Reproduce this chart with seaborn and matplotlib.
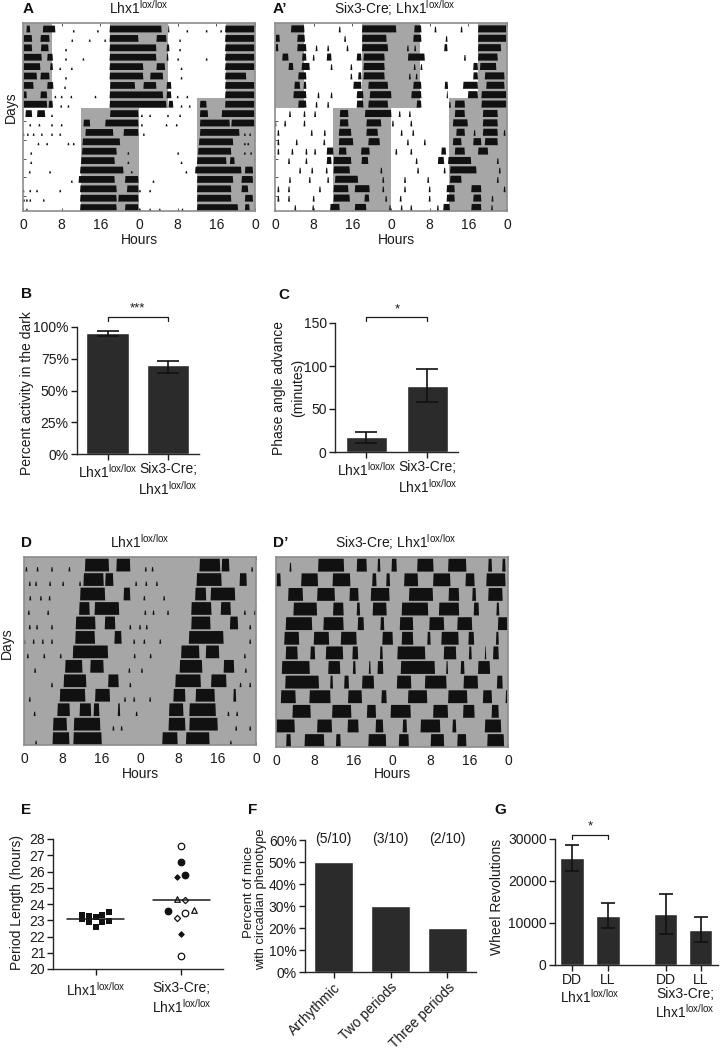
import matplotlib
matplotlib.use('Agg')
import matplotlib.pyplot as plt
import pandas as pd
import seaborn as sns

LOX = r'Lhx1$^{\mathrm{lox/lox}}$'
SIX3 = 'Six3-Cre;\n' + LOX
HOUR_TICKS = [0, 8, 16, 24, 32, 40, 48]
HOUR_LABELS = ['0', '8', '16', '0', '8', '16', '0']

# actograms: one list per day, bouts as (start hour, end hour) on the double plot
a_bouts = [
    [(0.7, 1.5), (4.1, 6.7), (17.9, 28.7), (30, 30.3), (41.8, 48)],
    [(0.1, 1.9), (3.6, 5.5), (17.9, 23.9), (27.6, 29.7), (41.8, 48)],
    [(0.1, 1.9), (3.7, 5.3), (17.9, 27.6), (29.7, 30.3), (41.8, 48)],
    [(0.1, 3.9), (5, 6.2), (17.9, 27.6), (29.7, 30.1), (41.8, 48)],
    [(0.1, 3.6), (5.6, 6.2), (17.9, 24.9), (27.6, 29.4), (41.8, 48)],
    [(0.1, 2.9), (3.6, 5.5), (17.9, 24.9), (26.3, 29), (41.8, 46.2)],
    [(0.1, 2.2), (5, 6.3), (18, 23.2), (24.9, 27.6), (29.7, 30.7), (41.8, 48)],
    [(0.1, 0.8), (3.6, 5), (17.9, 29), (29.7, 30.7), (41.8, 48)],
    [(0.1, 5), (5.3, 6.2), (17.9, 29.7), (30.1, 31.1), (36.6, 38), (41.8, 48)],
    [(0.5, 1.9), (2.9, 4.6), (18, 23.9), (36.6, 38.3), (41.1, 48)],
    [(12.5, 13.9), (17, 23.9), (36.6, 42.8), (43.1, 48)],
    [(12.9, 18.7), (20.8, 23.9), (36.6, 44.8)],
    [(12.3, 20.1), (36.4, 43.5)],
    [(12.2, 19.4), (36.2, 43.1)],
    [(12, 19), (36, 42.1), (42.8, 43.8)],
    [(11.8, 20.8), (35.6, 45.2), (45.9, 47.6)],
    [(11.5, 19), (21.1, 23.9), (36, 43.5), (45.2, 47.6)],
    [(11.8, 19.4), (21.5, 23.9), (36, 43.1), (45.2, 46.6)],
    [(11.8, 19.4), (19.7, 23.9), (36, 43.1), (45.9, 47.6)],
    [(11.8, 19.4), (21.1, 23.9), (36, 44.5), (45.9, 46.9)],
]
a_marks = [
    [10.5, 15.5, 34, 38, 41], [10.2, 13.8, 17, 32.5], [8.9, 32.5], [8.9, 12.5, 32.1, 38],
    [7.7, 10.1, 32.8], [8.9, 32.8], [8.7], [6.7, 8, 10, 15, 32, 34], [7.9, 9.4, 32.8, 34.5],
    [6, 24.6, 26.3, 30, 32.5], [1.5, 3.4, 6, 8, 24.6, 29.7, 31.8],
    [0.1, 1, 2.2, 3.9, 6, 7.7, 25, 45.9, 47], [3.2, 5, 9.4, 10.5, 45.9, 46.6],
    [1.7, 21.8, 32.1, 45.9, 47.2], [1.7, 21.8, 32.8], [1.4, 5.6, 22.5, 33.8], [10.1, 27],
    [0.1, 1.5, 2.9, 7.7, 24.2, 26.3], [0.2, 0.8, 1.5, 4.3], [0.8, 24.2, 26.3, 28.3, 33],
]
ap_bouts = [
    [(3.3, 6.1), (18, 25.1), (28.8, 30.3), (42, 47.9)],
    [(0.1, 1), (4.6, 6.2), (18, 23.1), (28.6, 30.3), (42, 47.9)],
    [(0.1, 0.7), (4.6, 6.5), (18, 23.4), (35, 35.7), (42, 46.8)],
    [(1.5, 2.8), (5.6, 6.5), (10.7, 11.7), (16.9, 17.9), (18.3, 22.7), (27.5, 31), (42, 46.1)],
    [(2.8, 3.8), (5.5, 7.2), (18.3, 22.7), (41, 42), (42.4, 45.8)],
    [(4.8, 6.5), (17.2, 17.9), (18.3, 22.7), (41, 42), (43.4, 47.5)],
    [(4, 5.2), (5.9, 6.5), (16.2, 17.9), (19.3, 23.4), (28.6, 30.3), (35.1, 35.8), (38.9, 42), (43.7, 47.5)],
    [(3.8, 6.5), (16.9, 18.3), (19.6, 24.1), (28.2, 30.3), (35.5, 35.8), (39.9, 42), (42.7, 47.9)],
    [(4.8, 6.5), (16.9, 18.3), (19.3, 23.4), (29.3, 30.3), (37.2, 39.3), (42.7, 47.9)],
    [(13.4, 15.2), (18.6, 24.1), (37.2, 39.3), (43, 46.1)],
    [(13.4, 15.2), (18.9, 22), (36.8, 39.9), (43, 46.1)],
    [(13.2, 15.8), (18.9, 21.3), (37.5, 39.3), (43, 46.1)],
    [(13.2, 16.2), (19.3, 21.7), (36.8, 38.6), (41, 42.7), (43.4, 46.1)],
    [(10.7, 12.1), (13.2, 14.8), (17.8, 19.6), (34.4, 35.4), (37.2, 39.3), (42, 44.1)],
    [(10.7, 11.7), (12.1, 15.8), (17.9, 19.3), (33.7, 35), (35.8, 40.6)],
    [(12.1, 15.5), (36.2, 41.7)],
    [(12.4, 17.2), (36.2, 38.6)],
    [(12.1, 15.2), (16.5, 19.6), (35.5, 37.2), (40.6, 42.7)],
    [(12.1, 15.5), (18.5, 19.5), (35.5, 37.2), (41, 42.7)],
    [(11.4, 13.4), (16.5, 18.9), (34.8, 36.2), (40.6, 42.7)],
]
ap_marks = [
    [13.4, 33.2, 38.6], [14.5, 35.5], [8.6, 11, 15, 27.5, 29], [8, 39.3], [11.7, 15.8, 28.9, 30.3],
    [15.8, 27.9, 29.3], [35.5], [9, 11.7], [8.6, 11, 36.2], [3.1, 6.1, 8.3, 25.8, 27.9],
    [0.1, 2.1, 6.1, 24.4, 28.2], [0.7, 7.6, 10.3, 26.2, 28.6, 41.3, 47.5], [0.7, 4.5, 10.2, 27.5, 31],
    [0.7, 3.6, 6.5, 8.3, 25.1, 28.2], [2.9, 6.5, 29.3, 46.1], [5.2, 7.7, 10.7, 22, 29.6, 35.1, 46.5],
    [3.1, 7.2, 11, 22.4, 26.9, 31.7, 46.1], [0.7, 2.9, 9.3, 22.4, 26.9, 32, 47.5],
    [0.7, 2.9, 8, 23, 26, 32, 45], [4.2, 7.9, 23.8, 26.2, 28.2, 33.7, 44.9],
]
d_bouts = [
    [(12.6, 17.6), (19.1, 22), (36.3, 40.6), (40.9, 42.5)],
    [(12.3, 16.5), (16.8, 18.5), (35.7, 40.9), (44.6, 46.1)],
    [(11.6, 16.8), (20.6, 22), (35.4, 37.7), (38.6, 43.7)],
    [(11.4, 13.6), (14.6, 19.7), (34.6, 38.8), (40.7, 42.8)],
    [(10.7, 14.8), (16.7, 18.9), (34.6, 38.6), (42.6, 44.3)],
    [(10.6, 14.7), (18.7, 20.2), (34.1, 41.3)],
    [(10.1, 17.4), (32.5, 36.3), (37.6, 40.4)],
    [(8.5, 12.1), (13.7, 16.5), (32.2, 36.9), (41.3, 43.5)],
    [(8.2, 12.9), (17.4, 19.6), (31.3, 36.6), (38.7, 41.9)],
    [(7.4, 12.7), (14.7, 17.8), (30.9, 33.4), (35.5, 39.5), (43.3, 43.9)],
    [(6.9, 9.5), (11.5, 13.9), (14.4, 15.6), (19.4, 19.9), (30, 33), (34.2, 39.7)],
    [(6, 8.9), (10.3, 15.8), (29.9, 33.4), (34.2, 40.1)],
    [(5.9, 9.4), (10.2, 16.1), (28.6, 31.8), (33.5, 38.4)],
]
d_marks = [
    [0.5, 2.8, 5.8, 9.4, 25.2, 26.6, 47.2], [1.2, 2.5, 5.4, 8.1, 11.6, 23.2, 25.3, 27.5],
    [1.3, 3.5, 5.3, 24.9, 29], [1, 5, 25.1, 26.8, 29.8, 45.7, 47.8],
    [1.2, 2.7, 5.8, 22, 24, 25.4, 46.8], [0.1, 2, 3.9, 5.8, 22.8, 24.9, 28.2, 46.8],
    [0.8, 4.2, 7.6, 22.9, 26.2, 45.7], [2.3, 21.8, 24.4, 45.9], [5.8, 22, 44.8, 46.8],
    [1.2, 20.9, 22.8, 26.1], [2.2, 23.3, 42.3, 44.1], [18.5, 20.2, 43.9, 46.8], [2.5, 42.8],
]
dp_bouts = [
    [(8.7, 14.1), (16.7, 18.8), (21, 21.6), (23.9, 25), (29.2, 32.6), (35.6, 39.4), (43.9, 44.7), (46.8, 47.5)],
    [(0, 1), (5.2, 8.7), (11.7, 15.4), (19.9, 20.8), (22.8, 23.6), (26.5, 29.4), (32.5, 36.1), (39.2, 41.1), (43.5, 47.5)],
    [(2.5, 5.6), (8.5, 12.2), (15.2, 17.1), (19.6, 23.5), (27.5, 32.5), (35.7, 37.9), (40.6, 41.4), (43.9, 46.9)],
    [(3.6, 8.5), (11.8, 14), (16.7, 17.4), (20, 22.9), (26, 31.5), (33.7, 37.9), (40.9, 42), (45.6, 46.2)],
    [(2, 7.5), (9.8, 14), (16.9, 18.2), (21.6, 22.4), (25.6, 28.4), (31.7, 34.8), (37.5, 40.6), (45.9, 47.9)],
    [(1.7, 4.8), (7.8, 11), (13.4, 16.7), (22, 24.2), (26, 28.4), (31.3, 32), (34.2, 37.8), (39.8, 41), (45.5, 46.1)],
    [(2, 4.5), (7.1, 8.1), (10.3, 13.9), (15.8, 17), (21.5, 22.1), (25.1, 30.9), (34.7, 37.3), (39.9, 40.5), (43.2, 43.5), (44.9, 46.1)],
    [(1.2, 7), (10.8, 13.3), (15.9, 16.5), (19.2, 19.6), (21, 22.2), (25.8, 32.9), (35.2, 35.6), (38.2, 39), (41.8, 44.3)],
    [(1.9, 8.9), (11.2, 11.8), (14.1, 15.1), (17.8, 20.3), (25, 28), (30.8, 35.3), (38.8, 41.8), (45.7, 46.9)],
    [(1, 4.1), (6.9, 11.3), (14.9, 17.8), (21.8, 22.9), (27.3, 31.3), (35.6, 39.6), (42.8, 44.7), (47.5, 47.9)],
    [(3.4, 7.2), (11.6, 15.6), (18.8, 20.7), (23.7, 27.9), (32.5, 35.6), (38.7, 41.1), (44.6, 46.1)],
    [(0, 3.9), (8.5, 11.6), (14.8, 17.1), (20.6, 22.2), (26.2, 27.1), (29.9, 34), (36.5, 37.3), (43.2, 46.6)],
    [(2.1, 3.1), (5.9, 10), (12.4, 13.4), (19.1, 22.8), (25.4, 27.5), (32, 34.8), (37.5, 39.4), (43.7, 47.2)],
]
dp_marks = [[3]] + [[] for _ in range(12)]

# lighting: (first day, last day + 1, dark from, dark until)
ld_dark = [(0, 9, 0, 6), (0, 9, 18, 30), (0, 8, 42, 48), (8, 9, 36, 48), (9, 20, 12, 24), (9, 20, 36, 48)]

# B
b_groups = [LOX, SIX3]
b_means = [95, 70]
b_low = [93, 64]
b_high = [96.5, 73.5]
b_ticks = [0, 25, 50, 75, 100]
# C
c_means = [17, 77]
c_low = [11, 58]
c_high = [23, 96]
c_ticks = [0, 50, 100, 150]
# E
e_ticks = [20, 21, 22, 23, 24, 25, 26, 27, 28]
e_lox = [23.32, 23.05, 23.28, 22.9, 23.2, 22.6, 23.3, 22.87, 23.5, 22.95]
e_lox_pos = [-0.156, -0.156, -0.078, -0.078, 0, 0, 0.078, 0.078, 0.156, 0.156]
e_mean = [23.1, 24.25]
e_open_circle = [(1, 27.57), (1.047, 23.44), (1, 20.78)]
e_filled_circle = [(1, 26.56), (1.047, 25.77), (0.844, 23.57)]
e_filled_diamond = [(0.945, 25.67), (1, 22.16)]
e_open_triangle = [(0.945, 24.33), (1.148, 23.65)]
e_open_diamond = [(1.047, 24.23), (0.945, 23.15)]
# F
f_groups = ['Arrhythmic', 'Two periods', 'Three periods']
f_values = [50, 30, 20]
f_counts = ['(5/10)', '(3/10)', '(2/10)']
f_ticks = [0, 10, 20, 30, 40, 50, 60]
# G
g_pos = [0, 1, 2.61, 3.58]
g_labels = ['DD', 'LL', 'DD', 'LL']
g_means = [25500, 11700, 12200, 8400]
g_low = [22400, 8700, 7300, 5400]
g_high = [28500, 14800, 16900, 11500]
g_ticks = [0, 10000, 20000, 30000]

W, H = 721, 1049
DARK = '#a6a6a6'
BAR = '#2b2b2b'
INK = '#1a1a1a'

sns.set_theme(style='ticks')
plt.rcParams['font.family'] = ['Liberation Sans', 'DejaVu Sans']
plt.rcParams['mathtext.fontset'] = 'custom'
plt.rcParams['mathtext.rm'] = 'Liberation Sans'
plt.rcParams['axes.linewidth'] = 1.0
plt.rcParams['text.color'] = INK
plt.rcParams['axes.labelcolor'] = INK
plt.rcParams['xtick.color'] = INK
plt.rcParams['ytick.color'] = INK

fig = plt.figure(figsize=(W / 100, H / 100), dpi=100)


def px_axes(left, right, top, bottom):
    return fig.add_axes([left / W, 1 - bottom / H, (right - left) / W, (bottom - top) / H])


def label(x, y, s, size=10, **kw):
    kw.setdefault('ha', 'center')
    kw.setdefault('va', 'center')
    fig.text(x / W, 1 - y / H, s, fontsize=size, **kw)


def peak(ax, start, end, base, height):
    # slightly sloped flanks, the activity bouts are not square blocks
    slope = min(0.1, (end - start) / 2)
    ax.fill([start, start + slope, end - slope, end], [base, base - height, base - height, base],
            color='#111111', lw=0)


def actogram(ax, bouts, marks, dark, level, mark_level, tick_start):
    n = len(bouts)
    ax.set_xlim(0, 48)
    ax.set_ylim(n, 0)
    for first, last, start, end in dark:
        ax.bar(start, last - first, end - start, bottom=first, align='edge', color=DARK, lw=0)
    for day, row in enumerate(bouts):
        for start, end in row:
            peak(ax, start, end, day + 1, level)
        for hour in marks[day]:
            peak(ax, hour - 0.2, hour + 0.2, day + 1, mark_level)
    ax.set_xticks(HOUR_TICKS, HOUR_LABELS)
    ax.set_yticks([tick_start + 2 * i for i in range(n // 2)], [])
    ax.tick_params(axis='x', direction='in', top=True, length=2, width=0.7, labelsize=10, pad=5, color='#555555')
    ax.tick_params(axis='y', direction='in', right=True, length=2, width=0.7, color='#555555')
    for side in ax.spines.values():
        side.set_color('#8c8c8c')
        side.set_linewidth(1.2)


def bar_panel(ax, groups, means, low, high, ticks, ylim, xlim, cap, width=0.7, native=False):
    data = pd.DataFrame({'group': groups, 'value': means})
    sns.barplot(data=data, x='group', y='value', ax=ax, color=BAR, saturation=1, width=width,
                native_scale=native, errorbar=None)
    if low is not None:
        lo = [m - v for m, v in zip(means, low)]
        hi = [v - m for m, v in zip(means, high)]
        pos = groups if native else range(len(groups))
        ax.errorbar(pos, means, yerr=[lo, hi], fmt='none', ecolor='#111111', elinewidth=1.2,
                    capsize=cap, capthick=1.2)
    ax.set_ylim(*ylim)
    ax.set_xlim(*xlim)
    ax.set_yticks(ticks)
    ax.set_xlabel('')
    ax.set_ylabel('')
    ax.tick_params(axis='both', labelsize=10, length=4, width=1, pad=2)
    sns.despine(ax=ax)


def bracket(ax, x0, x1, y_top, y_leg, star, y_star, size=9.5):
    ax.plot([x0, x0, x1, x1], [y_leg, y_top, y_top, y_leg], color=INK, lw=0.9, clip_on=False)
    ax.text((x0 + x1) / 2, y_star, star, ha='center', va='center', fontsize=size, clip_on=False)


# A, A'
ax = px_axes(23, 255, 23, 211)
actogram(ax, a_bouts, a_marks, ld_dark, 0.72, 0.25, 0.42)
ax = px_axes(275, 507, 23, 211)
actogram(ax, ap_bouts, ap_marks, ld_dark, 0.75, 0.6, 0.42)
# D, D'
ax = px_axes(24, 256, 557, 745)
actogram(ax, d_bouts, d_marks, [(0, 13, 0, 48)], 0.88, 0.3, 1.45)
ax = px_axes(276, 508, 557, 747)
actogram(ax, dp_bouts, dp_marks, [(0, 13, 0, 48)], 0.88, 0.6, 1.45)

# B
ax = px_axes(77, 199, 327, 454)
bar_panel(ax, b_groups, b_means, b_low, b_high, b_ticks, (0, 100), (-0.504, 1.512), 8)
ax.set_yticks(b_ticks, [f'{t}%' for t in b_ticks])
bracket(ax, 0, 1, 108, 104.5, '***', 115)

# C
ax = px_axes(335, 458, 323, 452)
bar_panel(ax, b_groups, c_means, c_low, c_high, c_ticks, (0, 150), (-0.516, 1.5), 8, width=0.67)
bracket(ax, 0, 1, 157, 152, '*', 166)

# E
ax = px_axes(53, 223, 839, 969)
sns.scatterplot(x=e_lox_pos, y=e_lox, ax=ax, marker='s', color='#111111', s=14, linewidth=0)
e_markers = [
    (e_open_circle, 'o', 'white', 22), (e_filled_circle, 'o', '#111111', 22),
    (e_filled_diamond, 'D', '#111111', 7), (e_open_triangle, '^', 'white', 16),
    (e_open_diamond, 'D', 'white', 10),
]
for points, marker, face, size in e_markers:
    sns.scatterplot(x=[p[0] for p in points], y=[p[1] for p in points], ax=ax, marker=marker,
                    color=face, edgecolor='#111111', linewidth=0.9, s=size)
for i, m in enumerate(e_mean):
    ax.plot([i - 0.33, i + 0.33], [m, m], color=INK, lw=1.1)
ax.set_xlim(-0.498, 1.486)
ax.set_ylim(20, 28)
ax.set_yticks(e_ticks)
ax.set_xticks([0, 1], b_groups)
ax.tick_params(axis='both', labelsize=10, length=4, width=1, pad=4.5)
ax.tick_params(axis='y', pad=1.5)
sns.despine(ax=ax)

# F
ax = px_axes(305, 476, 840, 972)
bar_panel(ax, f_groups, f_values, None, None, f_ticks, (0, 60), (-0.5, 2.5), 0, width=0.68)
ax.set_yticks(f_ticks, [f'{t}%' for t in f_ticks])
ax.set_xticks([0, 1, 2], f_groups, rotation=45, ha='right', rotation_mode='anchor')
for i, s in enumerate(f_counts):
    ax.text(i, 60.3, s, ha='center', va='center', fontsize=10, clip_on=False)

# G
ax = px_axes(555, 718, 839, 965)
bar_panel(ax, g_pos, g_means, g_low, g_high, g_ticks, (0, 30000), (-0.47, 4.06), 4.7, width=0.667, native=True)
ax.set_xticks(g_pos, g_labels)
bracket(ax, 0, 1, 31000, 30000, '*', 33000)
label(590, 997, LOX, 10)
label(685, 1004, SIX3, 10, linespacing=1.15)

# text around the panels
for x, y, s in [(28, 9, 'A'), (280, 9, 'A\u2019'), (26, 294, 'B'), (284, 295, 'C'), (27, 543, 'D'),
                (281, 543, 'D\u2019'), (26, 810, 'E'), (253, 810, 'F'), (500, 810, 'G')]:
    label(x, y, s, 11, fontweight='bold', color='#111111')
label(139, 8, LOX, 10)
label(395, 8, 'Six3-Cre; ' + LOX, 10)
label(140, 542, LOX, 10)
label(396, 542, 'Six3-Cre; ' + LOX, 10)
for x, y in [(139, 240), (396, 240), (140, 774), (392, 774)]:
    label(x, y, 'Hours', 10)
label(11, 107, 'Days', 10, rotation=90)
label(7, 643, 'Days', 10, rotation=90)
label(27, 393, 'Percent activity in the dark', 10, rotation=90)
label(279, 388, 'Phase angle advance', 10, rotation=90)
label(298, 388, '(minutes)', 10, rotation=90)
label(17, 903, 'Period Length (hours)', 10, rotation=90)
label(249, 892, 'Percent of mice', 9.5, rotation=90)
label(261, 899, 'with circadian phenotype', 9.3, rotation=90)
label(497, 897, 'Wheel Revolutions', 10, rotation=90)

fig.savefig('out.png', dpi=100)
